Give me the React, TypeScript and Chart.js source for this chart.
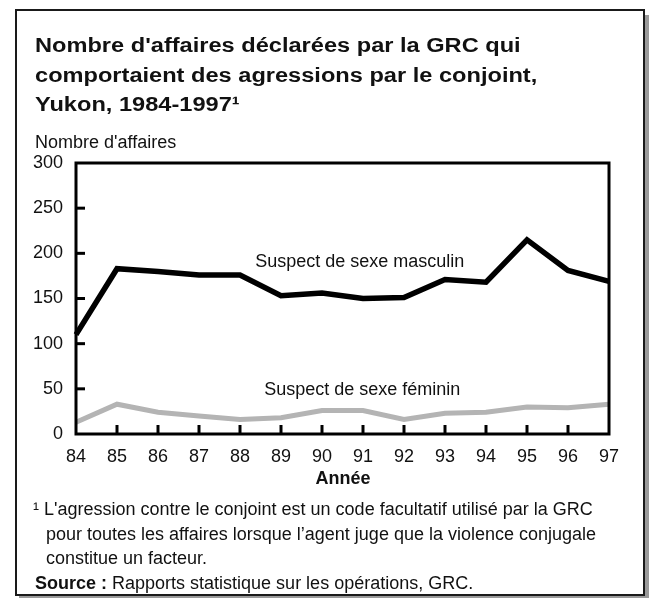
import React, { useEffect, useRef } from "react";
import { Chart, registerables } from "chart.js";

Chart.register(...registerables);

const years = ["84", "85", "86", "87", "88", "89", "90", "91", "92", "93", "94", "95", "96", "97"];
const maleSuspects = [110, 183, 180, 176, 176, 153, 156, 150, 151, 171, 168, 215, 181, 169];
const femaleSuspects = [13, 33, 24, 20, 16, 18, 26, 26, 16, 23, 24, 30, 29, 33];
const yTicks = [0, 50, 100, 150, 200, 250, 300];
const seriesLabels = ["Suspect de sexe masculin", "Suspect de sexe féminin"];
const labelPos = [
  { x: 4.37, y: 190 },
  { x: 4.59, y: 48.5 },
];

const FONT = '"Liberation Sans", Arial, sans-serif';

const framePlugin = {
  id: "framePlugin",
  afterDatasetsDraw(chart: any) {
    const { ctx, chartArea, scales } = chart;
    const { left, right, top, bottom } = chartArea;
    ctx.save();
    ctx.strokeStyle = "#000";
    ctx.lineWidth = 3;
    ctx.strokeRect(left, top, right - left, bottom - top);
    yTicks.forEach((v) => {
      if (v === 0 || v === 300) return;
      const y = scales.y.getPixelForValue(v);
      ctx.beginPath();
      ctx.moveTo(left, y);
      ctx.lineTo(left + 9, y);
      ctx.stroke();
    });
    years.forEach((_, i) => {
      if (i === 0 || i === years.length - 1) return;
      const x = scales.x.getPixelForValue(i);
      ctx.beginPath();
      ctx.moveTo(x, bottom);
      ctx.lineTo(x, bottom - 9);
      ctx.stroke();
    });
    ctx.fillStyle = "#111";
    ctx.font = `18px ${FONT}`;
    ctx.textBaseline = "middle";
    ctx.textAlign = "left";
    seriesLabels.forEach((t, i) => {
      ctx.fillText(t, scales.x.getPixelForValue(labelPos[i].x), scales.y.getPixelForValue(labelPos[i].y));
    });
    ctx.restore();
  },
};

export default function App() {
  const ref = useRef<HTMLCanvasElement | null>(null);
  useEffect(() => {
    if (!ref.current) return;
    const chart = new Chart(ref.current, {
      type: "line",
      data: {
        labels: years,
        datasets: [
          {
            label: seriesLabels[0],
            data: maleSuspects,
            borderColor: "#000",
            borderWidth: 5.5,
            pointRadius: 0,
            tension: 0,
            borderJoinStyle: "miter",
          },
          {
            label: seriesLabels[1],
            data: femaleSuspects,
            borderColor: "#b4b4b4",
            borderWidth: 5,
            pointRadius: 0,
            tension: 0,
            borderJoinStyle: "miter",
          },
        ],
      },
      options: {
        animation: false,
        responsive: false,
        devicePixelRatio: 1,
        layout: { padding: { left: 16, right: 40, top: 163, bottom: 124 } },
        plugins: { legend: { display: false }, tooltip: { enabled: false }, title: { display: false } },
        scales: {
          x: {
            type: "category",
            offset: false,
            grid: { display: false, drawTicks: false },
            border: { display: false },
            ticks: { color: "#111", font: { family: FONT, size: 18 }, padding: 12, maxRotation: 0, autoSkip: false },
            afterFit: (s: any) => {
              s.height = 40;
            },
          },
          y: {
            min: 0,
            max: 300,
            grid: { display: false, drawTicks: false },
            border: { display: false },
            afterBuildTicks: (s: any) => {
              s.ticks = yTicks.map((v) => ({ value: v }));
            },
            ticks: { color: "#111", font: { family: FONT, size: 18 }, padding: 13 },
            afterFit: (s: any) => {
              s.width = 60;
            },
          },
        },
      },
      plugins: [framePlugin],
    } as any);
    return () => chart.destroy();
  }, []);

  const text: React.CSSProperties = { position: "absolute", fontFamily: FONT, color: "#111", margin: 0, whiteSpace: "nowrap" };

  return (
    <div style={{ position: "absolute", left: 0, top: 0, width: 649, height: 598, background: "#fff", overflow: "hidden" }}>
      <div
        style={{
          position: "absolute",
          left: 15,
          top: 9,
          width: 630,
          height: 587,
          boxSizing: "border-box",
          border: "2.5px solid #1a1a1a",
          boxShadow: "4px 6px 0 #9a9a9a",
          background: "#fff",
        }}
      />
      <canvas ref={ref} width={649} height={598} style={{ position: "absolute", left: 0, top: 0, width: 649, height: 598 }} />
      <div
        style={{
          ...text,
          left: 35,
          top: 31,
          fontSize: 20,
          fontWeight: "bold",
          lineHeight: "29.5px",
          transform: "scaleX(1.18)",
          transformOrigin: "left top",
        }}
      >
        Nombre d'affaires déclarées par la GRC qui
        <br />
        comportaient des agressions par le conjoint,
        <br />
        Yukon, 1984-1997¹
      </div>
      <div style={{ ...text, left: 35, top: 132, fontSize: 18 }}>Nombre d'affaires</div>
      <div style={{ ...text, left: 0, width: 686, top: 468, fontSize: 18, fontWeight: "bold", textAlign: "center" }}>Année</div>
      <div style={{ ...text, left: 33, top: 497, fontSize: 18, lineHeight: "24.6px" }}>
        ¹ L'agression contre le conjoint est un code facultatif utilisé par la GRC
        <br />
        <span style={{ paddingLeft: 13 }}>pour toutes les affaires lorsque l’agent juge que la violence conjugale</span>
        <br />
        <span style={{ paddingLeft: 13 }}>constitue un facteur.</span>
        <br />
        <span style={{ paddingLeft: 2 }}>
          <b>Source :</b> Rapports statistique sur les opérations, GRC.
        </span>
      </div>
    </div>
  );
}
